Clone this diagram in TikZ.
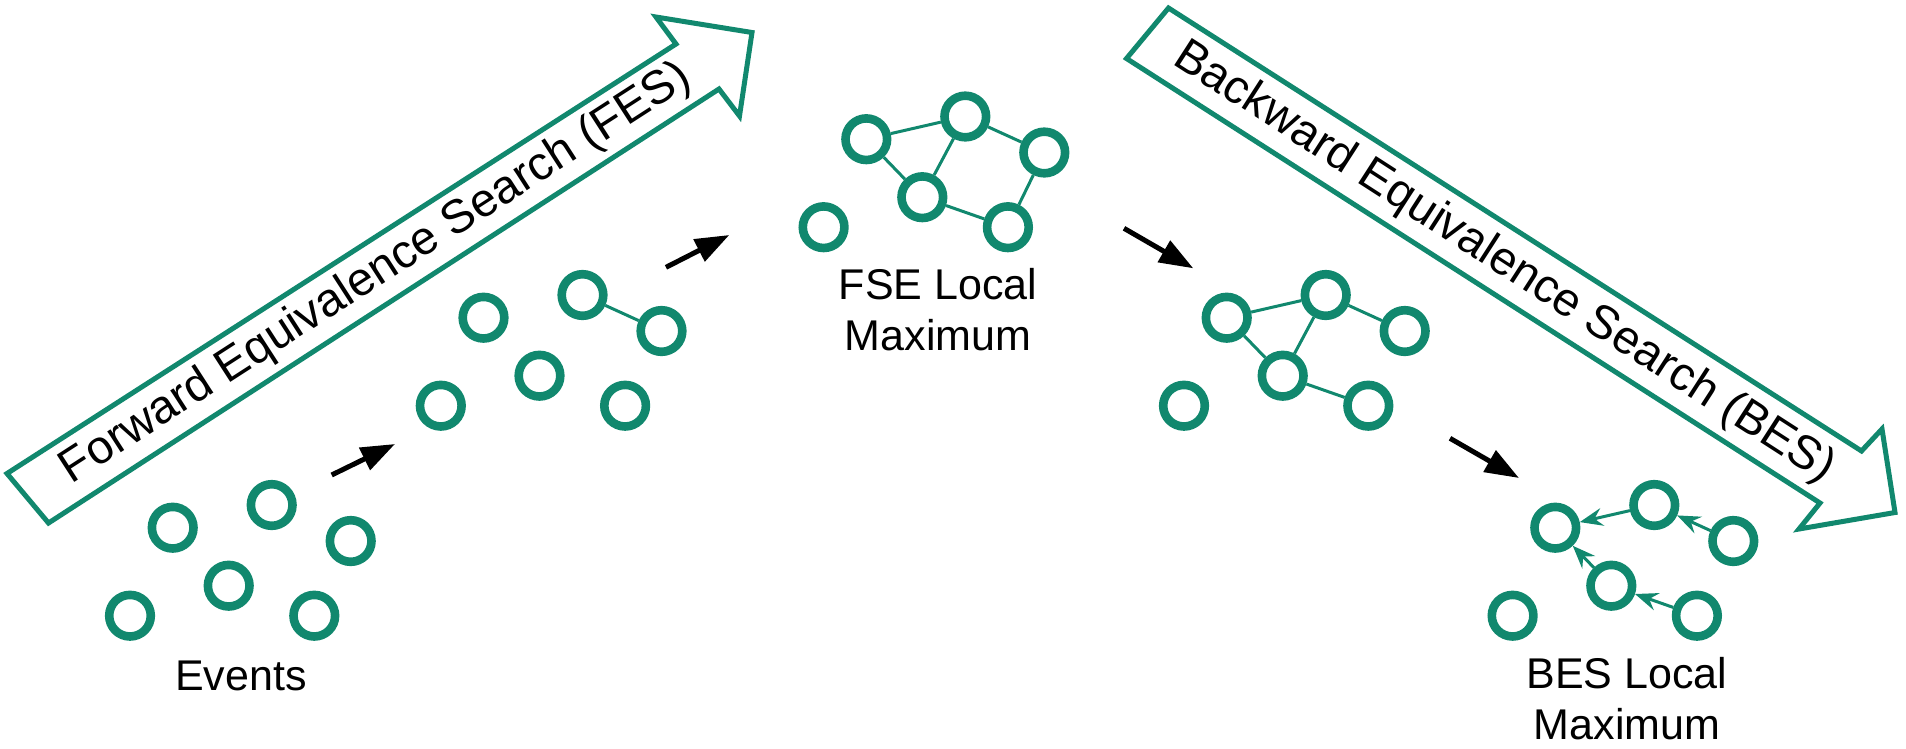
\documentclass[tikz,border=0pt]{standalone}
\usepackage{fontspec}
\setmainfont{Liberation Sans}
\usetikzlibrary{arrows.meta}
\definecolor{grn}{RGB}{17,136,110}
\newcommand\evgroup[3]{%
  \node[ev] (#1-1) at (#2,#3) {};
  \node[ev] (#1-2) at (#2+99,#3-22.7) {};
  \node[ev] (#1-3) at (#2+178,#3+13.3) {};
  \node[ev] (#1-4) at (#2+56,#3+58) {};
  \node[ev] (#1-5) at (#2-42.7,#3+88) {};
  \node[ev] (#1-6) at (#2+141.6,#3+88) {};
}
\begin{document}
\begin{tikzpicture}[x=1pt,y=-1pt,
  ev/.style={circle, draw=grn, line width=8.6pt, minimum size=41.6pt, inner sep=0pt},
  link/.style={draw=grn, line width=3pt},
  dlink/.style={link, -{Stealth[length=23pt,width=18pt,inset=8pt]}},
  bigarrow/.style={draw=grn, line width=5pt, fill=white},
  flow/.style={line width=5pt, -{Triangle[length=34pt,width=24pt]}},
  lbl/.style={font=\fontsize{43}{51}\selectfont, align=center, inner sep=0pt},
  atext/.style={font=\fontsize{47}{56}\selectfont, inner sep=0pt}]
\useasboundingbox (0,0) rectangle (1906,748);

% big outlined arrows
\draw[bigarrow] (7,473.5) -- (676,44) -- (656,17) -- (752,32.5) -- (739.5,116) -- (719,89) -- (48.5,523) -- cycle;
\draw[bigarrow] (1168.5,8) -- (1861.5,451) -- (1882,429) -- (1895,512.5) -- (1799,529) -- (1820,503) -- (1126.5,58.5) -- cycle;
\node[atext, rotate=32.8] (fest) at (376,274) {Forward Equivalence Search (FES)};
\node[atext, rotate=-32.8] (best) at (1504,263) {Backward Equivalence Search (BES)};

% event groups
\evgroup{a}{172.7}{527.7}
\evgroup{b}{483.5}{317.7}
\evgroup{c}{866.3}{139.2}
\evgroup{d}{1226.7}{317.7}
\evgroup{f}{1555.3}{527.7}

\draw[link] (b-2) -- (b-3);

\draw[link] (c-1) -- (c-2);
\draw[link] (c-1) -- (c-4);
\draw[link] (c-2) -- (c-4);
\draw[link] (c-2) -- (c-3);
\draw[link] (c-3) -- (c-6);
\draw[link] (c-4) -- (c-6);

\draw[link] (d-1) -- (d-2);
\draw[link] (d-1) -- (d-4);
\draw[link] (d-2) -- (d-4);
\draw[link] (d-2) -- (d-3);
\draw[link] (d-4) -- (d-6);

\draw[dlink] (f-2) -- (f-1);
\draw[dlink] (f-3) -- (f-2);
\draw[dlink] (f-4) -- (f-1);
\draw[dlink] (f-6) -- (f-4);

% labels (base anchor = baseline of the last line)
\node[lbl, anchor=base] (evlabel) at (240.8,690) {Events};
\node[lbl, anchor=base] (fselabel) at (938,350.5) {FSE Local\\Maximum};
\node[lbl, anchor=base] (beslabel) at (1627,739.3) {BES Local\\Maximum};

% flow arrows
\coordinate (f1s) at (331.7,475); \coordinate (f1e) at (395,444);
\coordinate (f2s) at (666,267.3); \coordinate (f2e) at (729.3,235);
\coordinate (f3s) at (1124,228.3); \coordinate (f3e) at (1193.3,268.3);
\coordinate (f4s) at (1450,438.3); \coordinate (f4e) at (1519,478);
\draw[flow] (f1s) -- (f1e);
\draw[flow] (f2s) -- (f2e);
\draw[flow] (f3s) -- (f3e);
\draw[flow] (f4s) -- (f4e);
\end{tikzpicture}
\end{document}
